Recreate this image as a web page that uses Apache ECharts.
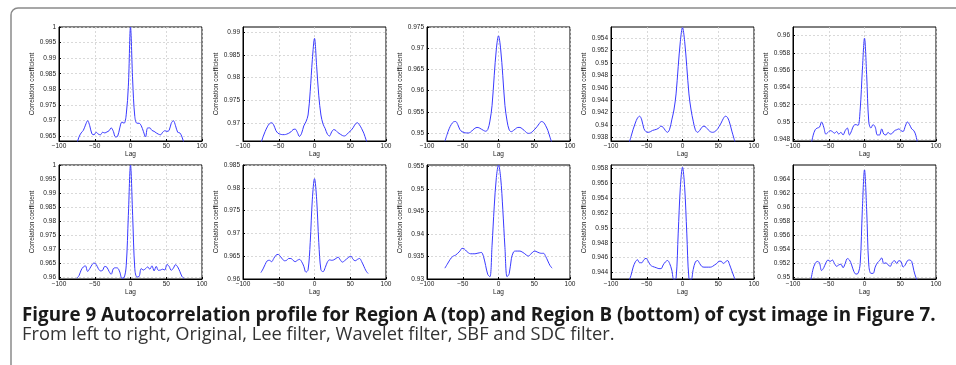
<!DOCTYPE html>
<html>
<head>
<meta charset="utf-8">
<script src="https://cdn.jsdelivr.net/npm/echarts@6/dist/echarts.min.js"></script>
<style>
  html, body { margin: 0; padding: 0; background: #fff; }
  #chart { width: 956px; height: 365px; }
</style>
</head>
<body>
<div id="chart"></div>
<script>
// lag values shared by all ten panels
var lags = [-75, -72, -69, -66, -63, -60, -57, -54, -51, -48, -45, -42, -39, -36, -33, -30, -27, -24, -21, -18, -15, -12, -9, -6, -3,
  0, 3, 6, 9, 12, 15, 18, 21, 24, 27, 30, 33, 36, 39, 42, 45, 48, 51, 54, 57, 60, 63, 66, 69, 72, 75]

// Region A (top row)
var aOriginal = [0.9625, 0.9647, 0.9660, 0.9668, 0.9685, 0.9699, 0.9683, 0.9657, 0.9654, 0.9662, 0.9656, 0.9654, 0.9662, 0.9660, 0.9663, 0.9667, 0.9676, 0.9665, 0.9647, 0.9649, 0.9676, 0.9695, 0.9691, 0.9718, 0.9810,
  1.0000, 0.9830, 0.9713, 0.9691, 0.9691, 0.9683, 0.9665, 0.9647, 0.9676, 0.9676, 0.9668, 0.9665, 0.9660, 0.9656, 0.9654, 0.9662, 0.9667, 0.9665, 0.9668, 0.9691, 0.9699, 0.9683, 0.9662, 0.9660, 0.9647, 0.9625]
var aLee = [0.9655, 0.9670, 0.9682, 0.9692, 0.9699, 0.9701, 0.9696, 0.9684, 0.9678, 0.9676, 0.9675, 0.9675, 0.9676, 0.9678, 0.9681, 0.9686, 0.9687, 0.9680, 0.9671, 0.9678, 0.9694, 0.9703, 0.9718, 0.9770, 0.9840,
  0.9886, 0.9825, 0.9760, 0.9718, 0.9698, 0.9688, 0.9676, 0.9672, 0.9681, 0.9686, 0.9684, 0.9679, 0.9676, 0.9673, 0.9672, 0.9675, 0.9680, 0.9684, 0.9690, 0.9698, 0.9701, 0.9696, 0.9688, 0.9678, 0.9664, 0.9652]
var aWavelet = [0.9480, 0.9496, 0.9510, 0.9520, 0.9526, 0.9527, 0.9520, 0.9508, 0.9503, 0.9501, 0.9500, 0.9500, 0.9502, 0.9507, 0.9511, 0.9513, 0.9512, 0.9509, 0.9506, 0.9504, 0.9508, 0.9528, 0.9565, 0.9635, 0.9698,
  0.9729, 0.9698, 0.9635, 0.9565, 0.9528, 0.9507, 0.9503, 0.9506, 0.9510, 0.9513, 0.9513, 0.9510, 0.9506, 0.9501, 0.9499, 0.9500, 0.9504, 0.9509, 0.9515, 0.9522, 0.9527, 0.9525, 0.9517, 0.9506, 0.9490, 0.9475]
var aSBF = [0.9370, 0.9381, 0.9393, 0.9403, 0.9411, 0.9414, 0.9408, 0.9394, 0.9389, 0.9388, 0.9389, 0.9391, 0.9392, 0.9393, 0.9395, 0.9398, 0.9396, 0.9391, 0.9388, 0.9393, 0.9408, 0.9424, 0.9450, 0.9494, 0.9535,
  0.9557, 0.9535, 0.9494, 0.9450, 0.9424, 0.9406, 0.9392, 0.9388, 0.9391, 0.9396, 0.9398, 0.9396, 0.9392, 0.9389, 0.9388, 0.9389, 0.9392, 0.9397, 0.9403, 0.9410, 0.9414, 0.9412, 0.9403, 0.9390, 0.9378, 0.9366]
var aSDC = [0.9472, 0.9484, 0.9491, 0.9493, 0.9494, 0.9500, 0.9494, 0.9486, 0.9488, 0.9490, 0.9489, 0.9487, 0.9489, 0.9486, 0.9488, 0.9485, 0.9490, 0.9493, 0.9485, 0.9490, 0.9496, 0.9497, 0.9496, 0.9515, 0.9560,
  0.9597, 0.9555, 0.9500, 0.9493, 0.9497, 0.9494, 0.9485, 0.9485, 0.9492, 0.9486, 0.9485, 0.9488, 0.9486, 0.9487, 0.9490, 0.9491, 0.9492, 0.9490, 0.9489, 0.9495, 0.9500, 0.9497, 0.9492, 0.9490, 0.9484, 0.9470]

// Region B (bottom row)
var bOriginal = [0.9596, 0.9605, 0.9625, 0.9636, 0.9640, 0.9620, 0.9630, 0.9643, 0.9650, 0.9645, 0.9630, 0.9622, 0.9624, 0.9638, 0.9635, 0.9620, 0.9610, 0.9630, 0.9633, 0.9632, 0.9618, 0.9596, 0.9598, 0.9640, 0.9820,
  1.0000, 0.9820, 0.9630, 0.9600, 0.9602, 0.9630, 0.9625, 0.9630, 0.9636, 0.9628, 0.9640, 0.9622, 0.9638, 0.9624, 0.9625, 0.9628, 0.9625, 0.9645, 0.9638, 0.9624, 0.9632, 0.9644, 0.9636, 0.9620, 0.9602, 0.9595]
var bLee = [0.9614, 0.9622, 0.9632, 0.9640, 0.9641, 0.9638, 0.9645, 0.9652, 0.9654, 0.9650, 0.9644, 0.9640, 0.9641, 0.9645, 0.9645, 0.9641, 0.9638, 0.9641, 0.9643, 0.9638, 0.9628, 0.9615, 0.9620, 0.9680, 0.9775,
  0.9820, 0.9775, 0.9680, 0.9620, 0.9616, 0.9625, 0.9637, 0.9642, 0.9641, 0.9642, 0.9645, 0.9648, 0.9642, 0.9637, 0.9640, 0.9644, 0.9648, 0.9650, 0.9643, 0.9640, 0.9643, 0.9645, 0.9638, 0.9628, 0.9618, 0.9612]
var bWavelet = [0.9324, 0.9332, 0.9340, 0.9347, 0.9351, 0.9353, 0.9357, 0.9362, 0.9368, 0.9367, 0.9362, 0.9358, 0.9356, 0.9356, 0.9356, 0.9357, 0.9358, 0.9359, 0.9350, 0.9330, 0.9310, 0.9305, 0.9375, 0.9460, 0.9525,
  0.9553, 0.9525, 0.9455, 0.9370, 0.9305, 0.9312, 0.9345, 0.9360, 0.9362, 0.9362, 0.9362, 0.9360, 0.9357, 0.9353, 0.9351, 0.9355, 0.9360, 0.9362, 0.9360, 0.9358, 0.9357, 0.9357, 0.9350, 0.9340, 0.9330, 0.9324]
var bSBF = [0.9428, 0.9436, 0.9447, 0.9454, 0.9457, 0.9453, 0.9453, 0.9457, 0.9459, 0.9455, 0.9450, 0.9448, 0.9447, 0.9446, 0.9445, 0.9445, 0.9450, 0.9454, 0.9456, 0.9452, 0.9443, 0.9430, 0.9432, 0.9493, 0.9555,
  0.9582, 0.9555, 0.9493, 0.9432, 0.9430, 0.9444, 0.9454, 0.9456, 0.9452, 0.9448, 0.9447, 0.9447, 0.9447, 0.9447, 0.9448, 0.9450, 0.9452, 0.9455, 0.9455, 0.9452, 0.9454, 0.9456, 0.9450, 0.9442, 0.9434, 0.9426]
var bSDC = [0.9496, 0.9512, 0.9520, 0.9523, 0.9521, 0.9510, 0.9514, 0.9521, 0.9525, 0.9523, 0.9525, 0.9520, 0.9516, 0.9518, 0.9519, 0.9514, 0.9520, 0.9527, 0.9525, 0.9518, 0.9509, 0.9505, 0.9506, 0.9520, 0.9597,
  0.9653, 0.9597, 0.9518, 0.9506, 0.9506, 0.9515, 0.9521, 0.9524, 0.9528, 0.9520, 0.9521, 0.9518, 0.9516, 0.9522, 0.9524, 0.9520, 0.9524, 0.9523, 0.9515, 0.9518, 0.9524, 0.9525, 0.9523, 0.9510, 0.9500, 0.9494]

// y tick values for each panel
var ticksA1 = [0.965, 0.97, 0.975, 0.98, 0.985, 0.99, 0.995, 1]
var ticksA2 = [0.97, 0.975, 0.98, 0.985, 0.99]
var ticksA3 = [0.95, 0.955, 0.96, 0.965, 0.97, 0.975]
var ticksA4 = [0.938, 0.94, 0.942, 0.944, 0.946, 0.948, 0.95, 0.952, 0.954]
var ticksA5 = [0.948, 0.95, 0.952, 0.954, 0.956, 0.958, 0.96]
var ticksB1 = [0.96, 0.965, 0.97, 0.975, 0.98, 0.985, 0.99, 0.995, 1]
var ticksB2 = [0.96, 0.965, 0.97, 0.975, 0.98, 0.985]
var ticksB3 = [0.93, 0.935, 0.94, 0.945, 0.95, 0.955]
var ticksB4 = [0.944, 0.946, 0.948, 0.95, 0.952, 0.954, 0.956, 0.958]
var ticksB5 = [0.95, 0.952, 0.954, 0.956, 0.958, 0.96, 0.962, 0.964]

var panels = [
  { vals: aOriginal, ticks: ticksA1, min: 0.9634, max: 1 },
  { vals: aLee, ticks: ticksA2, min: 0.9661, max: 0.9911 },
  { vals: aWavelet, ticks: ticksA3, min: 0.9481, max: 0.975 },
  { vals: aSBF, ticks: ticksA4, min: 0.9374, max: 0.9558 },
  { vals: aSDC, ticks: ticksA5, min: 0.9478, max: 0.961 },
  { vals: bOriginal, ticks: ticksB1, min: 0.9593, max: 1 },
  { vals: bLee, ticks: ticksB2, min: 0.96, max: 0.985 },
  { vals: bWavelet, ticks: ticksB3, min: 0.93, max: 0.9553 },
  { vals: bSBF, ticks: ticksB4, min: 0.9431, max: 0.9585 },
  { vals: bSDC, ticks: ticksB5, min: 0.9498, max: 0.966 }
]

var lefts = [59, 243, 427, 611, 793]
var tops = [27, 165]
var smallFont = 'Liberation Sans, Arial, sans-serif'

var chart = echarts.init(document.getElementById('chart'))
var grids = [], xAxes = [], yAxes = [], series = []

panels.forEach(function (p, i) {
  grids.push({
    left: lefts[i % 5], top: tops[Math.floor(i / 5)], width: 143, height: 114,
    show: true, borderColor: '#000', borderWidth: 1, backgroundColor: '#fff'
  })
  xAxes.push({
    type: 'value', gridIndex: i, min: -100, max: 100, interval: 50,
    name: 'Lag', nameLocation: 'middle', nameGap: 9,
    nameTextStyle: { fontSize: 6.5, color: '#222', fontFamily: smallFont },
    axisLine: { show: true, onZero: false, lineStyle: { color: '#000', width: 1 } },
    axisTick: { inside: true, length: 2, lineStyle: { color: '#000' } },
    axisLabel: {
      margin: 2, fontSize: 6.5, color: '#222', fontFamily: smallFont, showMinLabel: true, showMaxLabel: true,
      formatter: function (v) { return String(v).replace('-', '\u2212') }
    },
    splitLine: { show: true, lineStyle: { color: '#d0d0d0', type: [2, 2], width: 0.8 } }
  })
  yAxes.push({
    type: 'value', gridIndex: i, min: p.min, max: p.max,
    name: 'Correlation coefficient', nameLocation: 'middle', nameGap: 20,
    nameTextStyle: { fontSize: 6.5, color: '#222', fontFamily: smallFont },
    axisLine: { show: true, onZero: false, lineStyle: { color: '#000', width: 1 } },
    axisTick: { inside: true, length: 2, customValues: p.ticks, lineStyle: { color: '#000' } },
    axisLabel: {
      margin: 3, fontSize: 6.5, color: '#222', fontFamily: smallFont, customValues: p.ticks,
      formatter: function (v) { return String(Number(v.toFixed(3))) }
    },
    splitLine: { show: true, lineStyle: { color: '#d0d0d0', type: [2, 2], width: 0.8 } }
  })
  series.push({
    type: 'line', xAxisIndex: i, yAxisIndex: i, showSymbol: false, smooth: 0.35,
    clip: true, silent: true, animation: false,
    lineStyle: { color: '#3a3aff', width: 1 },
    data: lags.map(function (l, k) { return [l, p.vals[k]] })
  })
})

chart.setOption({
  animation: false,
  grid: grids,
  xAxis: xAxes,
  yAxis: yAxes,
  series: series,
  graphic: [
    {
      type: 'rect', z: -1, silent: true,
      shape: { x: 11, y: 8, width: 980, height: 400, r: 7 },
      style: { fill: 'none', stroke: '#8a8a8a', lineWidth: 1.5 }
    },
    {
      type: 'text', x: 22, y: 316,
      style: {
        text: 'Figure 9 Autocorrelation profile for Region A (top) and Region B (bottom) of cyst image in Figure 7.',
        font: 'bold 18.8px "Open Sans", sans-serif', fill: '#1a1a1a', verticalAlign: 'middle'
      }
    },
    {
      type: 'text', x: 22, y: 335,
      style: {
        text: 'From left to right, Original, Lee filter, Wavelet filter, SBF and SDC filter.',
        font: '18.3px "Open Sans", sans-serif', fill: '#333', verticalAlign: 'middle'
      }
    }
  ]
})
</script>
</body>
</html>
